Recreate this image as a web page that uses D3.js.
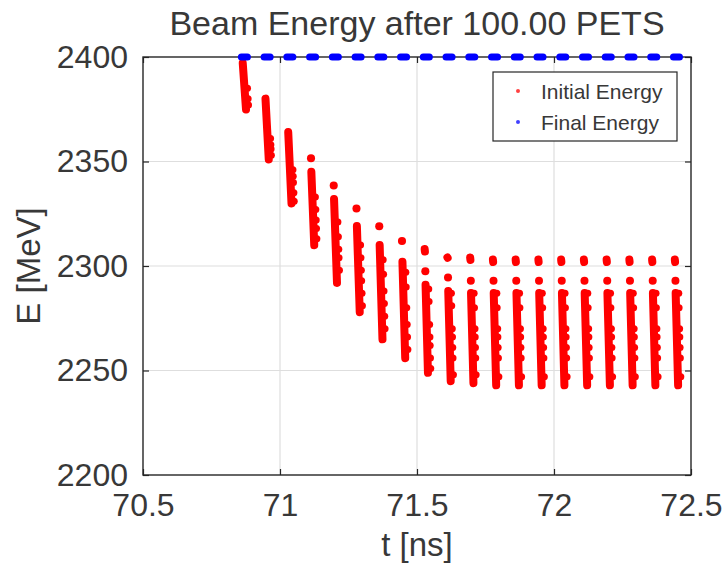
<!DOCTYPE html>
<html>
<head>
<meta charset="utf-8">
<script src="https://cdn.jsdelivr.net/npm/d3@7"></script>
<style>
  html, body { margin: 0; padding: 0; background: #fff; }
  svg { display: block; }
  text { font-family: "Liberation Sans", Arial, Helvetica, sans-serif; fill: #383838; }
</style>
</head>
<body>
<svg id="chart" width="725" height="564"></svg>
<script>
// Bunch arrival times along the train [ns]
const bunchTime = [70.870, 70.953, 71.036, 71.119, 71.202, 71.285, 71.368, 71.451,
                   71.534, 71.617, 71.700, 71.783, 71.866, 71.949, 72.032, 72.115,
                   72.198, 72.281, 72.364, 72.447];

// Initial energy: contiguous particle ranges within each bunch, [upper, lower] in MeV
const initialRanges = [
  [[2399, 2373]],
  [[2382, 2349]],
  [[2366, 2328]],
  [[2352, 2351], [2347, 2308]],
  [[2339, 2338], [2334, 2290]],
  [[2328, 2327], [2321, 2276]],
  [[2320, 2318], [2312, 2263]],
  [[2313, 2311], [2304, 2254]],
  [[2310, 2305], [2298, 2297], [2293, 2247]],
  [[2306, 2302], [2295, 2294], [2290, 2243]],
  [[2306, 2301], [2293, 2293], [2289, 2242]],
  [[2305, 2300], [2293, 2293], [2289, 2241]],
  [[2305, 2300], [2293, 2293], [2289, 2241]],
  [[2305, 2300], [2293, 2293], [2289, 2241]],
  [[2305, 2300], [2293, 2293], [2289, 2241]],
  [[2305, 2300], [2293, 2293], [2289, 2241]],
  [[2305, 2300], [2293, 2293], [2289, 2241]],
  [[2305, 2300], [2293, 2293], [2289, 2241]],
  [[2305, 2300], [2293, 2293], [2289, 2241]],
  [[2305, 2300], [2293, 2293], [2289, 2241]]
];

// Initial energy: particles lagging behind the main streak [MeV]
const initialTrailing = [
  [2385, 2380, 2377],
  [2361, 2358, 2356, 2353],
  [2346, 2343, 2340, 2335, 2331],
  [2333, 2327, 2322, 2318, 2313],
  [2321, 2314, 2308, 2304, 2298],
  [2310, 2304, 2298, 2293, 2287, 2281],
  [2303, 2296, 2288, 2282, 2276, 2270],
  [2297, 2290, 2280, 2272, 2266, 2260],
  [2289, 2283, 2272, 2266, 2262, 2256, 2251],
  [2287, 2281, 2270, 2266, 2261, 2256, 2248],
  [2287, 2280, 2270, 2266, 2261, 2256, 2248],
  [2287, 2280, 2270, 2266, 2261, 2256, 2247],
  [2287, 2280, 2270, 2266, 2261, 2256, 2247],
  [2287, 2280, 2270, 2266, 2261, 2256, 2247],
  [2287, 2280, 2270, 2266, 2261, 2256, 2247],
  [2287, 2280, 2270, 2266, 2261, 2256, 2247],
  [2287, 2280, 2270, 2266, 2261, 2256, 2247],
  [2287, 2280, 2270, 2266, 2261, 2256, 2247],
  [2287, 2280, 2270, 2266, 2261, 2256, 2247],
  [2287, 2280, 2270, 2266, 2261, 2256, 2247]
];

// Final energy of every bunch [MeV]
const finalEnergy = [2400, 2400, 2400, 2400, 2400, 2400, 2400, 2400, 2400, 2400,
                     2400, 2400, 2400, 2400, 2400, 2400, 2400, 2400, 2400, 2400];

const xTicks = [70.5, 71, 71.5, 72, 72.5];
const yTicks = [2200, 2250, 2300, 2350, 2400];
const seriesNames = ["Initial Energy", "Final Energy"];
const seriesColors = ["#ff0000", "#0000ff"];

const svg = d3.select("#chart");
const m = { left: 143, right: 691, top: 57, bottom: 475 };
const x = d3.scaleLinear().domain([70.5, 72.5]).range([m.left, m.right]);
const y = d3.scaleLinear().domain([2200, 2400]).range([m.bottom, m.top]);
const axisColor = "#262626";
const redW = 8;           // initial-energy streak thickness in px
const blueW = 7;          // final-energy streak thickness in px
const halfSpread = 0.006; // head-to-tail time offset within a bunch [ns]

// grid
const grid = svg.append("g");
grid.selectAll(".gx").data(xTicks.slice(1, -1)).join("line")
  .attr("x1", d => x(d)).attr("x2", d => x(d))
  .attr("y1", m.top).attr("y2", m.bottom)
  .attr("stroke", "#dedede").attr("stroke-width", 1.2);
grid.selectAll(".gy").data(yTicks.slice(1, -1)).join("line")
  .attr("x1", m.left).attr("x2", m.right)
  .attr("y1", d => y(d)).attr("y2", d => y(d))
  .attr("stroke", "#dedede").attr("stroke-width", 1.2);

// axes (ticks point inward)
svg.append("g").attr("transform", `translate(0,${m.bottom})`)
  .call(d3.axisBottom(x).tickValues(xTicks).tickSize(-6).tickPadding(18).tickFormat(d => String(d)))
  .call(g => g.select(".domain").remove());
svg.append("g").attr("transform", `translate(0,${m.top})`)
  .call(d3.axisTop(x).tickValues(xTicks).tickSize(-6).tickFormat(""))
  .call(g => g.select(".domain").remove());
svg.append("g").attr("transform", `translate(${m.left},0)`)
  .call(d3.axisLeft(y).tickValues(yTicks).tickSize(-6).tickPadding(15).tickFormat(d3.format("d")))
  .call(g => g.select(".domain").remove());
svg.append("g").attr("transform", `translate(${m.right},0)`)
  .call(d3.axisRight(y).tickValues(yTicks).tickSize(-6).tickFormat(""))
  .call(g => g.select(".domain").remove());
svg.selectAll(".tick line").attr("stroke", axisColor).attr("stroke-width", 1.2);
svg.selectAll(".tick text").attr("font-size", 32).attr("fill", "#383838")
  .attr("font-family", "Liberation Sans, Arial, sans-serif");

svg.append("rect")
  .attr("x", m.left).attr("y", m.top)
  .attr("width", m.right - m.left).attr("height", m.bottom - m.top)
  .attr("fill", "none").attr("stroke", axisColor).attr("stroke-width", 1.4);

// initial energy streaks
const red = svg.append("g");
bunchTime.forEach((t, i) => {
  const ranges = initialRanges[i];
  const eMax = d3.max(ranges, r => r[0]);
  const eMin = d3.min(ranges, r => r[1]);
  const tAt = e => t + halfSpread * (eMax === eMin ? 0 : (2 * (eMax - e) / (eMax - eMin) - 1));
  ranges.forEach(([hi, lo]) => {
    const mid = (y(hi) + y(lo)) / 2;
    const ya = Math.min(y(hi) + redW / 2, mid), yb = Math.max(y(lo) - redW / 2, mid);
    red.append("line")
      .attr("x1", x(tAt(hi))).attr("y1", ya)
      .attr("x2", x(tAt(lo))).attr("y2", yb)
      .attr("stroke", seriesColors[0]).attr("stroke-width", redW)
      .attr("stroke-linecap", "round");
  });
  initialTrailing[i].forEach(e => {
    red.append("circle")
      .attr("cx", x(tAt(e)) + 3).attr("cy", y(e)).attr("r", 3.5)
      .attr("fill", seriesColors[0]);
  });
});

// final energy streaks
svg.append("g").selectAll("line").data(bunchTime).join("line")
  .attr("x1", d => x(d - 0.011)).attr("x2", d => x(d + 0.011))
  .attr("y1", (d, i) => y(finalEnergy[i])).attr("y2", (d, i) => y(finalEnergy[i]))
  .attr("stroke", seriesColors[1]).attr("stroke-width", blueW)
  .attr("stroke-linecap", "round");

// title and axis labels
svg.append("text").attr("x", (m.left + m.right) / 2).attr("y", 35)
  .attr("text-anchor", "middle").attr("font-size", 34).text("Beam Energy after 100.00 PETS");
svg.append("text").attr("x", (m.left + m.right) / 2).attr("y", 556)
  .attr("text-anchor", "middle").attr("font-size", 33).text("t [ns]");
svg.append("text").attr("transform", `translate(40,${(m.top + m.bottom) / 2}) rotate(-90)`)
  .attr("text-anchor", "middle").attr("font-size", 33).text("E [MeV]");

// legend
const lg = svg.append("g");
lg.append("rect").attr("x", 493).attr("y", 72).attr("width", 184).attr("height", 69)
  .attr("fill", "#fff").attr("stroke", axisColor).attr("stroke-width", 1.2);
seriesNames.forEach((name, i) => {
  const cy = 91 + i * 31;
  lg.append("circle").attr("cx", 518).attr("cy", cy).attr("r", 2).attr("fill", seriesColors[i]).attr("opacity", 0.75);
  lg.append("text").attr("x", 541).attr("y", cy).attr("dy", "0.36em")
    .attr("font-size", 21).text(name);
});
</script>
</body>
</html>
